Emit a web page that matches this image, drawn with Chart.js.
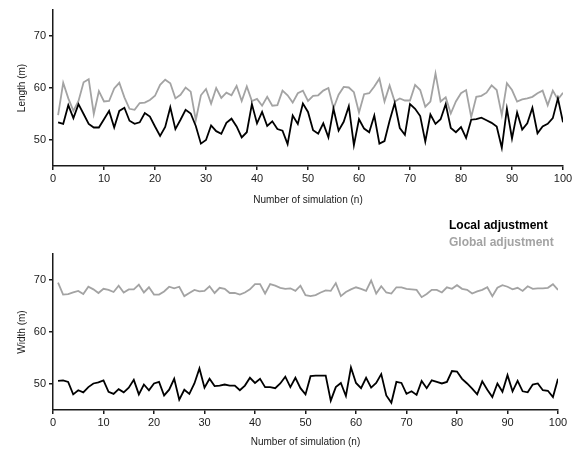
<!DOCTYPE html>
<html>
<head>
<meta charset="utf-8">
<script src="https://cdn.jsdelivr.net/npm/chart.js@4.4.1/dist/chart.umd.min.js"></script>
<style>
  body { margin: 0; background: #fff; width: 578px; height: 450px; position: relative; overflow: hidden; }
  .panel { position: absolute; left: 0; width: 578px; }
  .legend { position: absolute; left: 449px; font: bold 12px "Liberation Sans", Arial, sans-serif; line-height: 14px; white-space: nowrap; }
</style>
</head>
<body>
<div class="panel" style="top:0;height:210px"><canvas id="lengthChart" width="578" height="210"></canvas></div>
<div class="panel" style="top:210px;height:240px"><canvas id="widthChart" width="578" height="240"></canvas></div>
<div class="legend" style="top:218px;color:#000">Local adjustment</div>
<div class="legend" style="top:235px;color:#a3a3a3">Global adjustment</div>
<script>
// simulation numbers 1..100
const simulations = [];
for (let i = 1; i <= 100; i++) simulations.push(i);

const xTicks = [0, 10, 20, 30, 40, 50, 60, 70, 80, 90, 100];
const yTicks = [50, 60, 70];

const lengthLocal = [
  53.4, 53.1, 56.7, 54.2, 56.9, 55.0, 53.1, 52.4, 52.4, 54.0,
  55.6, 52.4, 55.6, 56.2, 53.7, 53.1, 53.4, 55.2, 54.5, 52.6,
  50.8, 52.5, 56.3, 52.1, 53.9, 55.8, 55.1, 52.7, 49.3, 50.0,
  52.8, 51.7, 51.2, 53.3, 54.1, 52.6, 50.5, 51.5, 56.9, 53.2,
  55.4, 52.7, 53.6, 52.1, 51.8, 49.2, 54.7, 53.1, 57.0, 55.4,
  51.9, 51.2, 53.2, 50.5, 56.0, 51.8, 53.5, 56.5, 49.0, 54.0,
  52.2, 51.5, 54.7, 49.3, 49.8, 53.7, 57.1, 52.3, 51.0, 56.9,
  56.0, 54.6, 49.7, 54.9, 53.1, 54.0, 56.9, 52.3, 51.5, 52.5,
  50.4, 53.9, 54.0, 54.3, 53.8, 53.3, 52.6, 48.5, 56.0, 50.3,
  55.3, 52.0, 53.2, 56.2, 51.3, 52.6, 53.1, 54.2, 58.0, 53.4
];
const lengthGlobal = [
  54.8, 61.0, 58.0, 55.6, 57.5, 61.1, 61.7, 55.0, 59.4, 57.4,
  57.5, 59.9, 61.0, 58.2, 56.0, 55.8, 57.1, 57.2, 57.7, 58.5,
  60.6, 61.6, 60.9, 58.0, 58.7, 60.1, 59.3, 53.8, 58.6, 59.8,
  57.0, 60.0, 58.1, 59.1, 58.6, 60.4, 57.5, 60.3, 57.5, 57.9,
  56.6, 58.3, 56.6, 56.7, 59.5, 58.6, 57.2, 59.0, 59.5, 57.5,
  58.5, 58.6, 59.5, 60.0, 56.1, 58.7, 60.2, 60.1, 59.2, 55.3,
  58.8, 59.0, 60.3, 61.8, 57.4, 60.5, 57.4, 58.0, 57.6, 57.6,
  60.6, 59.6, 56.4, 57.4, 62.8, 57.4, 58.2, 55.1, 57.4, 59.0,
  59.6, 54.4, 58.3, 58.5, 59.1, 60.5, 59.6, 54.8, 60.9, 59.6,
  57.4, 57.8, 58.0, 58.3, 59.0, 59.5, 56.7, 59.5, 57.8, 59.1
];
const widthLocal = [
  50.6, 50.7, 50.4, 48.0, 48.8, 48.4, 49.4, 50.1, 50.3, 50.7,
  48.5, 48.1, 49.0, 48.4, 49.3, 50.8, 48.0, 49.9, 48.8, 50.1,
  50.4, 47.8, 48.9, 51.0, 47.0, 48.9, 48.1, 50.1, 53.0, 49.3,
  51.0, 49.6, 49.7, 49.9, 49.7, 49.7, 48.8, 49.7, 51.2, 50.2,
  51.0, 49.4, 49.4, 49.2, 50.1, 51.4, 49.4, 51.2, 49.2, 48.0,
  51.5, 51.6, 51.6, 51.6, 46.8, 49.4, 50.2, 47.7, 53.2, 50.2,
  49.2, 51.2, 49.3, 50.2, 51.9, 47.8, 46.4, 50.4, 50.2, 48.1,
  48.6, 47.9, 50.6, 49.2, 50.7, 50.4, 50.1, 50.4, 52.5, 52.4,
  51.0, 50.1, 49.1, 48.0, 50.5, 48.9, 47.5, 50.1, 48.5, 51.7,
  48.6, 50.6, 48.6, 48.4, 49.9, 50.1, 48.8, 48.7, 47.5, 51.0
];
const widthGlobal = [
  69.5, 67.2, 67.3, 67.6, 67.9, 67.3, 68.7, 68.2, 67.5, 68.3,
  68.1, 67.7, 68.9, 67.6, 68.2, 68.2, 69.1, 67.6, 68.6, 67.2,
  67.2, 67.8, 68.7, 68.4, 68.7, 66.9, 67.5, 68.1, 67.8, 67.9,
  68.8, 67.5, 68.5, 68.3, 67.5, 67.5, 67.2, 67.6, 68.2, 69.2,
  69.2, 67.4, 69.2, 68.9, 68.5, 68.3, 68.4, 67.9, 68.9, 67.1,
  66.9, 67.1, 67.6, 68.0, 67.9, 69.4, 66.9, 67.7, 68.2, 68.6,
  68.3, 67.9, 69.9, 67.4, 68.8, 67.6, 67.4, 68.6, 68.6, 68.3,
  68.2, 68.1, 66.7, 67.3, 68.1, 68.1, 67.6, 68.6, 68.3, 69.0,
  68.3, 68.1, 67.4, 67.8, 68.1, 68.6, 66.9, 68.5, 69.0, 68.7,
  68.2, 68.5, 67.9, 68.8, 68.3, 68.4, 68.4, 68.5, 69.2, 68.1
];

const font = "'Liberation Sans', Arial, sans-serif";
const axisColor = '#1a1a1a';
const localColor = '#000000';
const globalColor = '#a3a3a3';

function toPoints(values) {
    return values.map((v, i) => ({x: simulations[i], y: v}));
}

function makeChart(canvasId, yTitle, local, global, opts) {
    return new Chart(document.getElementById(canvasId), {
        type: 'line',
        data: {
            datasets: [
                {label: 'Local adjustment', data: toPoints(local), borderColor: localColor, borderWidth: 1.8},
                {label: 'Global adjustment', data: toPoints(global), borderColor: globalColor, borderWidth: 1.8},
            ],
        },
        options: {
            responsive: false,
            animation: false,
            parsing: false,
            layout: {padding: {left: 0, right: opts.right, top: opts.top, bottom: 0}},
            elements: {point: {radius: 0}, line: {tension: 0}},
            plugins: {legend: {display: false}, tooltip: {enabled: false}},
            scales: {
                x: {
                    type: 'linear',
                    min: 0,
                    max: 100,
                    afterBuildTicks: (scale) => { scale.ticks = xTicks.map(v => ({value: v})); },
                    afterFit: (scale) => { scale.height = opts.xHeight; },
                    grid: {display: true, drawOnChartArea: false, drawTicks: true, tickLength: 4, color: axisColor, lineWidth: 1.5},
                    border: {display: true, color: axisColor, width: 1.5},
                    ticks: {color: axisColor, font: {family: font, size: 11}, padding: 2, maxRotation: 0, autoSkip: false},
                    title: {display: true, text: 'Number of simulation (n)', color: axisColor,
                            font: {family: font, size: 10}, padding: {top: 0, bottom: opts.titlePad}},
                },
                y: {
                    type: 'linear',
                    min: 45,
                    max: 75,
                    afterBuildTicks: (scale) => { scale.ticks = yTicks.map(v => ({value: v})); },
                    afterFit: (scale) => { scale.width = opts.yWidth; },
                    grid: {display: true, drawOnChartArea: false, drawTicks: true, tickLength: 4, color: axisColor, lineWidth: 1.5},
                    border: {display: true, color: axisColor, width: 1.5},
                    ticks: {color: axisColor, font: {family: font, size: 11}, padding: 3},
                    title: {display: true, text: yTitle, color: axisColor,
                            font: {family: font, size: 10}, padding: {top: 16, bottom: 0}},
                },
            },
        },
    });
}

makeChart('lengthChart', 'Length (m)', lengthLocal, lengthGlobal,
    {right: 15, top: 10, xHeight: 44, yWidth: 53, titlePad: 4});
makeChart('widthChart', 'Width (m)', widthLocal, widthGlobal,
    {right: 20, top: 44, xHeight: 40, yWidth: 53, titlePad: 1.5});
</script>
</body>
</html>
